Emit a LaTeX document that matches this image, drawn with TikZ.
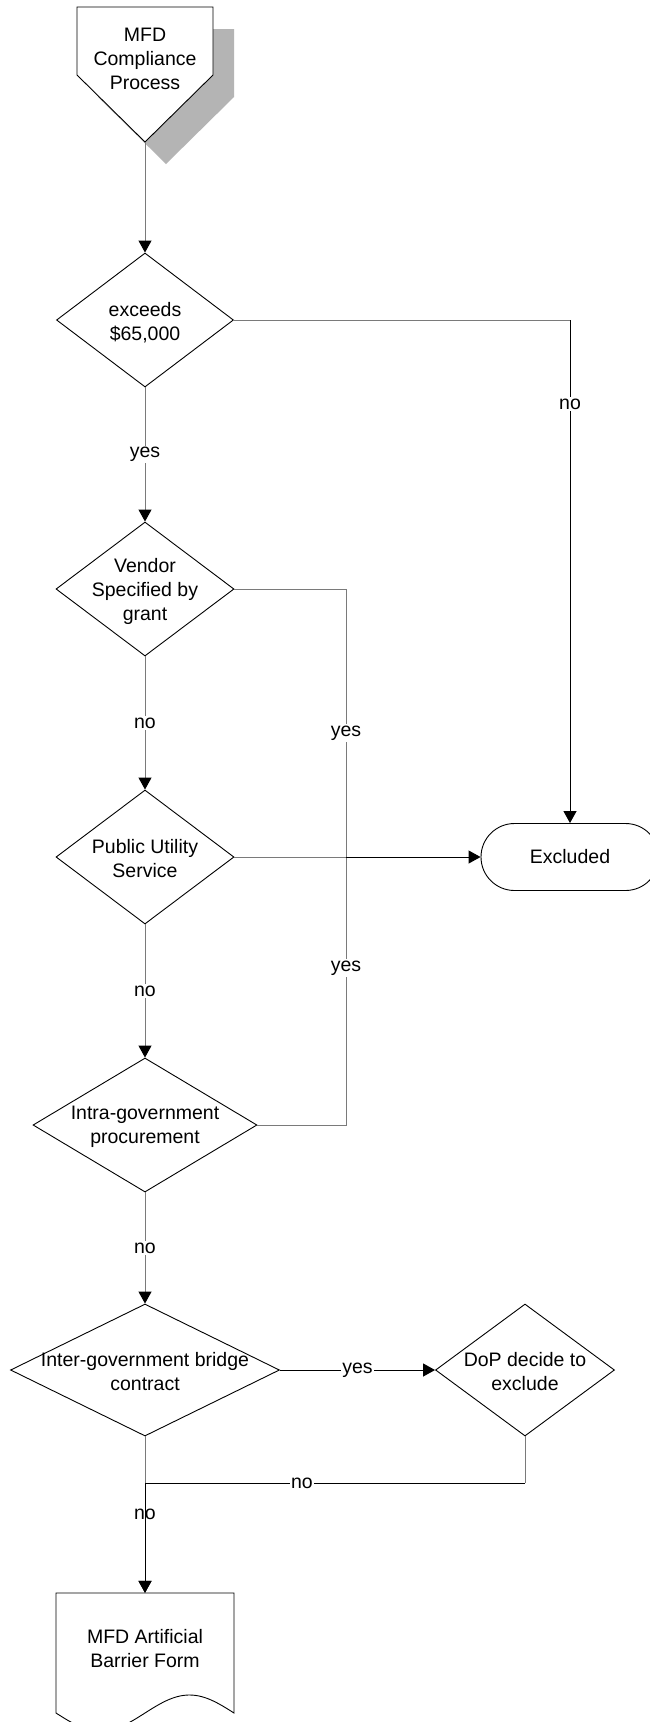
\documentclass[tikz,border=0pt]{standalone}
\usepackage{fontspec}
\setmainfont{Liberation Sans}
\usetikzlibrary{arrows.meta,shapes.geometric}
\definecolor{conngray}{HTML}{7A7A7A}
\definecolor{shadowgray}{HTML}{B4B4B4}
\begin{document}
\begin{tikzpicture}[x=1pt,y=-1pt,
  font=\fontsize{19.5}{24}\selectfont,
  dia/.style={draw=black, line width=0.9pt, shape=diamond, inner sep=0pt, fill=white},
  txt/.style={align=center, inner sep=0pt},
  tip/.style={-{Triangle[length=12pt,width=13pt,black]}},
  plain/.style={draw=conngray, line width=1pt},
  dark/.style={draw=black, line width=1pt},
  lab/.style={fill=white, inner sep=1.5pt},
]
\useasboundingbox[fill=white] (0,0) rectangle (650,1722);

% start shape (off-page reference) with shadow
\fill[shadowgray] (98,29) -- (234,29) -- (234,97) -- (166,164) -- (98,97) -- cycle;
\draw[line width=0.9pt, fill=white] (77,7) -- (213,7) -- (213,75) -- (145,142) -- (77,75) -- cycle;
\node[txt] (start) at (145,58.5) {MFD\\Compliance\\Process};
\coordinate (startapex) at (145,142);

% decisions
\node[dia, minimum width=177pt, minimum height=134pt] (d1) at (145,320) {};
\node[txt] (d1t) at (145,322.5) {exceeds\\\$65,000};
\node[dia, minimum width=178pt, minimum height=134pt] (d2) at (145,589) {};
\node[txt] (d2t) at (145,591) {Vendor\\Specified by\\grant};
\node[dia, minimum width=178pt, minimum height=134pt] (d3) at (145,857) {};
\node[txt] (d3t) at (145,859) {Public Utility\\Service};
\node[dia, minimum width=224pt, minimum height=134pt] (d4) at (145,1125) {};
\node[txt] (d4t) at (145,1127) {Intra-government\\procurement};
\node[dia, minimum width=269pt, minimum height=132pt] (d5) at (145,1370) {};
\node[txt] (d5t) at (145,1372) {Inter-government bridge\\contract};
\node[dia, minimum width=179pt, minimum height=132pt] (dop) at (525,1370) {};
\node[txt] (dopt) at (525,1372) {DoP decide to\\exclude};

% terminator
\node[draw, line width=0.9pt, rounded corners=33.5pt, minimum width=178pt,
      minimum height=67pt, inner sep=0pt] (excl) at (570,857) {Excluded};

% document
\draw[line width=0.9pt] (234,1713) -- (234,1593) -- (56,1593) --
  plot[domain=56:234, samples=90] (\x,{1713+18*sin(2.02247*(\x-56))}) -- cycle;
\node[txt, minimum width=178pt, minimum height=111pt] (doc) at (145,1648.5)
  {MFD Artificial\\Barrier Form};

% junctions
\coordinate (jA) at (346,857);
\coordinate (jB) at (145,1483);
\coordinate (jC) at (dop.south |- jB);
\coordinate (jD) at (d1.east -| excl.north);

% vertical flow
\draw[plain, tip] (startapex) -- (d1.north);
\draw[plain, tip] (d1.south) -- node[lab] (l1) {yes} (d2.north);
\draw[plain, tip] (d2.south) -- node[lab] (l2) {no} (d3.north);
\draw[plain, tip] (d3.south) -- node[lab] (l3) {no} (d4.north);
\draw[plain, tip] (d4.south) -- node[lab] (l4) {no} (d5.north);
\draw[plain, tip] (d5.south) -- node[lab] (l5) {no} (doc.north);

% exceeds -> no -> Excluded
\draw[plain] (d1.east) -- (jD);
\draw[dark, tip] (jD) -- node[lab, pos=0.167] (l6) {no} (excl.north);

% yes branches to Excluded
\draw[plain] (d2.east) -| node[lab, pos=0.769] (l7) {yes} (jA);
\draw[plain] (d4.east) -| node[lab, pos=0.793] (l8) {yes} (jA);
\draw[plain] (d3.east) -- (jA);
\draw[dark, tip] (jA) -- (excl.west);

% bridge contract branch
\draw[dark, tip] (d5.east) -- node[lab] (l9) {yes} (dop.west);
\draw[plain] (dop.south) -- (jC);
\draw[dark] (jC) -- node[lab, pos=0.587] (l10) {no} (jB);
\draw[dark, tip] (jB) -- (doc.north);
\end{tikzpicture}
\end{document}
